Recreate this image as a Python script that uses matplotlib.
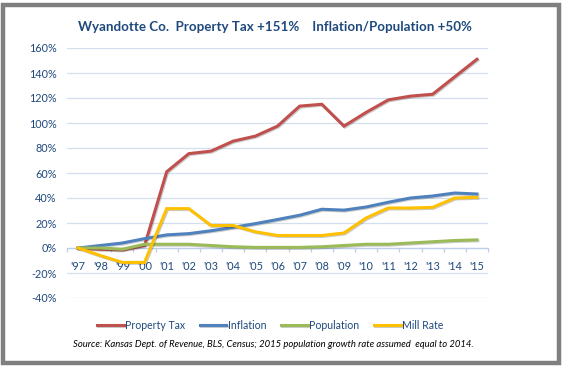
import numpy as np
import matplotlib as mpl
mpl.use("Agg")
import matplotlib.pyplot as plt
import matplotlib.patheffects as pe
from matplotlib.patches import Rectangle

plt.rcParams['font.family'] = ['Lato', 'DejaVu Sans']

years = ["'97", "'98", "'99", "'00", "'01", "'02", "'03", "'04", "'05", "'06",
         "'07", "'08", "'09", "'10", "'11", "'12", "'13", "'14", "'15"]

property_tax = [0, -1, -1.5, 2, 61, 75.5, 77.5, 85.5, 89.5, 97.5,
                113.5, 115, 97.5, 108.5, 118.5, 121.5, 123, 137, 151]
inflation = [0, 2, 4, 7.5, 10.5, 11.5, 13.8, 16.5, 19.5, 22.8,
             26.2, 31, 30.3, 32.8, 36.6, 40, 41.6, 44, 43.2]
population = [0, 0, -1, 3, 3, 3, 2, 1, 0.5, 0.5,
              0.5, 1, 2, 3, 3, 4, 5, 6, 6.5]
mill_rate = [0, -6, -11.5, -11.5, 31.5, 31.5, 18, 18, 13, 10,
             10, 10, 12, 24, 32, 32, 32.5, 40, 40.5]

series = [("Property Tax", property_tax, "#C0504D"),
          ("Inflation", inflation, "#4F81BD"),
          ("Population", population, "#9BBB59"),
          ("Mill Rate", mill_rate, "#FFC000")]

text_col = "#1F497D"
grid_col = "#D3DFEE"

fig = plt.figure(figsize=(5.68, 3.67), dpi=100)
ax = fig.add_axes([67/568, 69/367, 421/568, 250/367])

x = np.arange(len(years))
shadow = [pe.SimpleLineShadow(offset=(0.7, -0.7), alpha=0.2), pe.Normal()]
for name, vals, col in series:
    ax.plot(x, vals, color=col, lw=2.2, label=name, path_effects=shadow,
            solid_joinstyle='miter', zorder=3)

ax.set_xlim(-0.5, len(years) - 0.5)
ax.set_ylim(-40, 160)
ax.set_yticks(range(-40, 161, 20))
ax.set_yticklabels([f"{v}%" for v in range(-40, 161, 20)])
ax.yaxis.grid(True, color=grid_col, lw=0.9)
ax.set_axisbelow(True)

for s in ['top', 'right', 'left']:
    ax.spines[s].set_visible(False)
ax.spines['bottom'].set_position(('data', 0))
ax.spines['bottom'].set_color("#BCCFE6")
ax.spines['bottom'].set_linewidth(0.9)

ax.set_xticks(x)
ax.set_xticklabels(years)
ax.set_xticks(np.arange(-0.5, len(years), 1), minor=True)
ax.tick_params(axis='x', which='major', length=0, pad=9.5, labelsize=7.8, labelcolor=text_col)
ax.tick_params(axis='x', which='minor', length=3, color="#BCCFE6", width=0.9)
ax.tick_params(axis='y', length=0, pad=7.5, labelsize=7.8, labelcolor=text_col)

fig.text(0.484, 0.926, "Wyandotte Co.  Property Tax +151%    Inflation/Population +50%",
         ha='center', va='center', fontsize=9.6, fontweight='bold', color=text_col)

leg = fig.legend(loc='center', bbox_to_anchor=(0.476, 0.114), ncol=4, frameon=False,
                 fontsize=7.6, handlelength=2.5, handletextpad=0.15, columnspacing=1.4)
for t in leg.get_texts():
    t.set_color(text_col)

fig.text(0.482, 0.062, "Source: Kansas Dept. of Revenue, BLS, Census; 2015 population growth rate assumed  equal to 2014.",
         ha='center', va='center', fontsize=6.8, style='italic', color='black')

fig.patches.append(Rectangle((3/568, 4/367), 556/568, 358/367, transform=fig.transFigure,
                             fill=False, edgecolor="#7F7F7F", lw=3.2))

fig.savefig("out.png", dpi=100)
